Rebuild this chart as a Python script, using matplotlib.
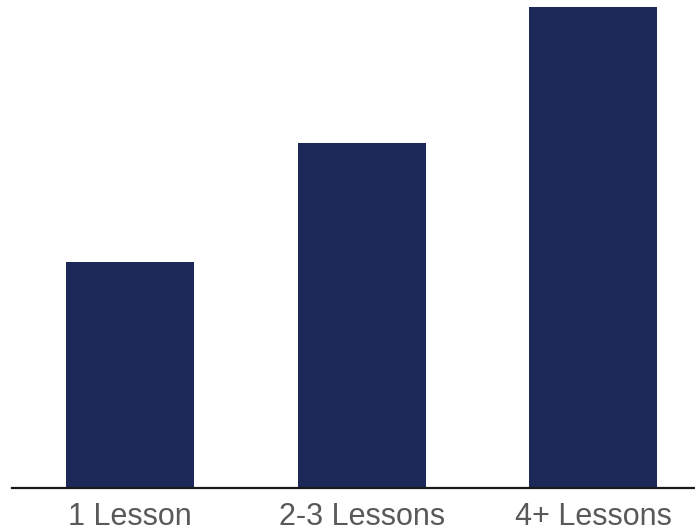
import matplotlib
matplotlib.use("Agg")
import matplotlib.pyplot as plt

categories = ["1 Lesson", "2-3 Lessons", "4+ Lessons"]
values = [46.9, 71.7, 100.0]

bar_color = "#1B2858"
label_color = "#595959"

fig = plt.figure(figsize=(6.95, 5.32), dpi=100)
ax = fig.add_axes([12 / 695, (532 - 487.7) / 532, 683 / 695, 487.7 / 532])

x = range(len(categories))
ax.bar(x, values, width=0.553, color=bar_color, zorder=2)

ax.set_xlim(-0.51, 2.44)
ax.set_ylim(0, 100 * 487.7 / 480.7)

for side in ("top", "right", "left"):
    ax.spines[side].set_visible(False)
ax.spines["bottom"].set_color("#1a1a1a")
ax.spines["bottom"].set_linewidth(1.6)
ax.spines["bottom"].set_zorder(3)

ax.set_yticks([])
ax.set_xticks(list(x))
ax.set_xticklabels(categories, fontsize=22, color=label_color,
                   family=["Liberation Sans", "DejaVu Sans"])
ax.tick_params(axis="x", length=0, pad=10)

fig.savefig("out.png", dpi=100, facecolor="white")
